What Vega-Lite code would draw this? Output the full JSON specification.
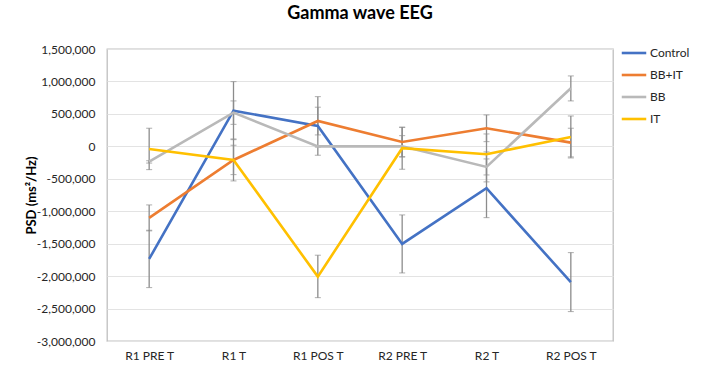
{
  "$schema": "https://vega.github.io/schema/vega-lite/v6.json",
  "width": 506,
  "height": 292,
  "autosize": {"type": "none"},
  "padding": {"left": 107, "top": 49, "right": 93, "bottom": 32},
  "background": "white",
  "title": {
    "text": "Gamma wave EEG",
    "font": "Lato",
    "fontSize": 18,
    "fontWeight": "bold",
    "color": "#000000",
    "anchor": "middle",
    "offset": 16
  },
  "config": {
    "view": {"stroke": "#bfbfbf", "strokeWidth": 1.3},
    "font": "Lato",
    "locale": {
      "number": {
        "decimal": ".",
        "thousands": ",",
        "grouping": [3],
        "currency": ["$", ""],
        "minus": "-"
      }
    }
  },
  "data": {
    "values": [
      {"phase": "R1 PRE T", "group": "Control", "value": -1735000, "lo": -2177000, "hi": -1293000},
      {"phase": "R1 T", "group": "Control", "value": 550000, "lo": 103000, "hi": 997000},
      {"phase": "R1 POS T", "group": "Control", "value": 314000, "lo": -137000, "hi": 766000},
      {"phase": "R2 PRE T", "group": "Control", "value": -1504000, "lo": -1951000, "hi": -1057000},
      {"phase": "R2 T", "group": "Control", "value": -646000, "lo": -1099000, "hi": -194000},
      {"phase": "R2 POS T", "group": "Control", "value": -2094000, "lo": -2547000, "hi": -1638000},
      {"phase": "R1 PRE T", "group": "BB+IT", "value": -1103000, "lo": -1303000, "hi": -903000},
      {"phase": "R1 T", "group": "BB+IT", "value": -210000, "lo": -436000, "hi": 17000},
      {"phase": "R1 POS T", "group": "BB+IT", "value": 391000, "lo": 176000, "hi": 603000},
      {"phase": "R2 PRE T", "group": "BB+IT", "value": 68000, "lo": -159000, "hi": 294000},
      {"phase": "R2 T", "group": "BB+IT", "value": 279000, "lo": 72000, "hi": 484000},
      {"phase": "R2 POS T", "group": "BB+IT", "value": 57000, "lo": -163000, "hi": 279000},
      {"phase": "R1 PRE T", "group": "BB", "value": -235000, "lo": -258000, "hi": -222000},
      {"phase": "R1 T", "group": "BB", "value": 519000, "lo": 339000, "hi": 700000},
      {"phase": "R1 POS T", "group": "BB", "value": 0, "lo": -12000, "hi": 12000},
      {"phase": "R2 PRE T", "group": "BB", "value": 0, "lo": -165000, "hi": 165000},
      {"phase": "R2 T", "group": "BB", "value": -317000, "lo": -548000, "hi": -86000},
      {"phase": "R2 POS T", "group": "BB", "value": 895000, "lo": 700000, "hi": 1085000},
      {"phase": "R1 PRE T", "group": "IT", "value": -40000, "lo": -359000, "hi": 279000},
      {"phase": "R1 T", "group": "IT", "value": -210000, "lo": -533000, "hi": 114000},
      {"phase": "R1 POS T", "group": "IT", "value": -2008000, "lo": -2332000, "hi": -1678000},
      {"phase": "R2 PRE T", "group": "IT", "value": -29000, "lo": -353000, "hi": 294000},
      {"phase": "R2 T", "group": "IT", "value": -122000, "lo": -441000, "hi": 191000},
      {"phase": "R2 POS T", "group": "IT", "value": 145000, "lo": -179000, "hi": 468000}
    ]
  },
  "encoding": {
    "x": {
      "field": "phase",
      "type": "ordinal",
      "sort": ["R1 PRE T", "R1 T", "R1 POS T", "R2 PRE T", "R2 T", "R2 POS T"],
      "scale": {"type": "point", "padding": 0.5},
      "axis": {
        "title": null,
        "labelAngle": 0,
        "labelFontSize": 12,
        "labelColor": "#262626",
        "labelPadding": 9,
        "domain": false,
        "ticks": false,
        "grid": false
      }
    }
  },
  "layer": [
    {
      "mark": {
        "type": "errorbar",
        "ticks": {"size": 6, "color": "#8c8c8c", "strokeWidth": 1.3},
        "rule": {"color": "#8c8c8c", "strokeWidth": 1.3}
      },
      "encoding": {
        "y": {
          "field": "lo",
          "type": "quantitative",
          "scale": {"domain": [-3000000, 1500000], "nice": false},
          "axis": {
            "title": "PSD (ms²/Hz)",
            "titleFontSize": 13,
            "titleFontWeight": "bold",
            "titleColor": "#000000",
            "titlePadding": -2,
            "values": [-3000000, -2500000, -2000000, -1500000, -1000000, -500000, 0, 500000, 1000000, 1500000],
            "tickCount": 20,
            "format": ",.0f",
            "labelOverlap": false,
            "labelFontSize": 12,
            "labelColor": "#262626",
            "labelPadding": 12,
            "domain": false,
            "ticks": false,
            "gridColor": "#e3e3e3",
            "gridWidth": 1.2
          }
        },
        "y2": {"field": "hi"}
      }
    },
    {
      "mark": {"type": "line", "strokeWidth": 2.6},
      "encoding": {
        "y": {"field": "value", "type": "quantitative"},
        "color": {
          "field": "group",
          "type": "nominal",
          "sort": ["Control", "BB+IT", "BB", "IT"],
          "scale": {
            "domain": ["Control", "BB+IT", "BB", "IT"],
            "range": ["#4472C4", "#ED7D31", "#B9B9B9", "#FFC000"]
          },
          "legend": {
            "title": null,
            "orient": "none",
            "legendX": 513,
            "legendY": -10,
            "symbolType": "stroke",
            "symbolSize": 600,
            "symbolStrokeWidth": 2.6,
            "labelFontSize": 12,
            "labelColor": "#262626",
            "labelOffset": 2,
            "rowPadding": 2
          }
        }
      }
    }
  ]
}
